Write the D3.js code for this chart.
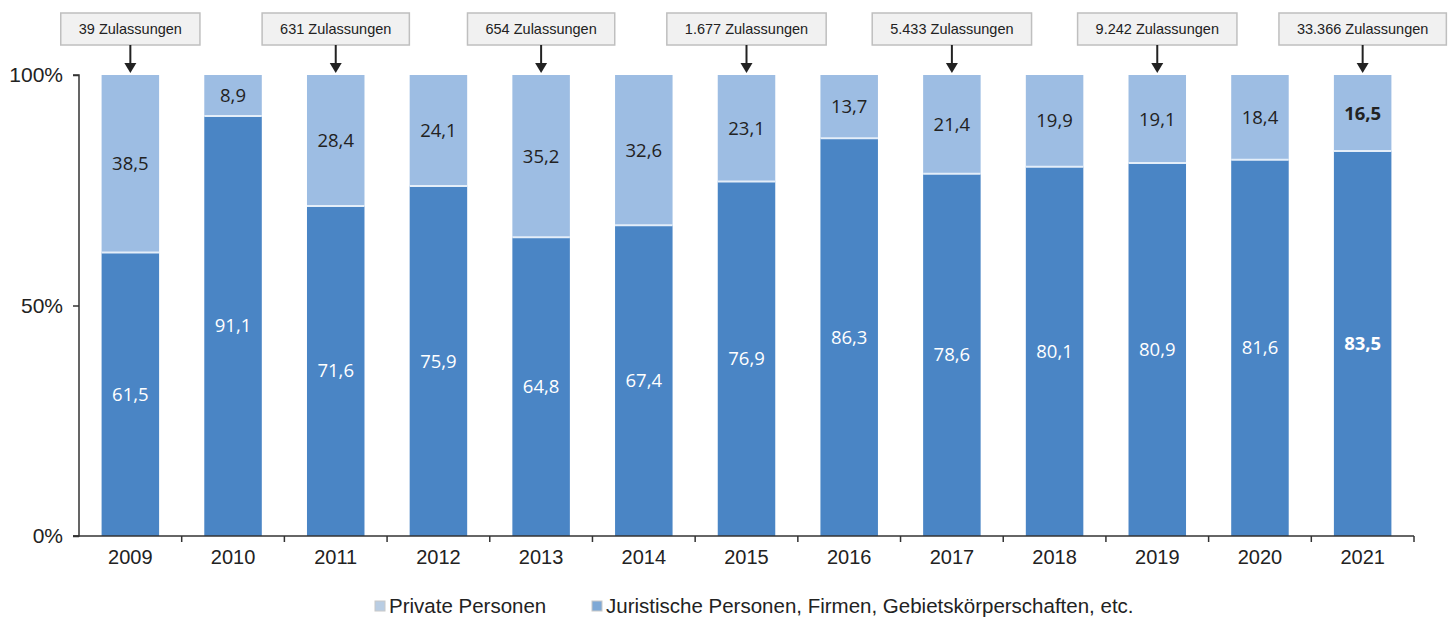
<!doctype html>
<html lang="de">
<head>
    <meta charset="utf-8">
    <title>Zulassungen</title>
    <script src="https://cdnjs.cloudflare.com/ajax/libs/d3/7.8.5/d3.min.js"></script>
    <style>
        body { margin: 0; background: #fff; }
        #chart text { font-family: Arial, "Liberation Sans", sans-serif; fill: #222; }
        #chart .val { font-family: "Open Sans", "Noto Sans", sans-serif; font-size: 18.5px; }
    </style>
</head>
<body>
    <div id="chart"></div>
    <script>
        // data
        var years = ["2009", "2010", "2011", "2012", "2013", "2014", "2015", "2016", "2017", "2018", "2019", "2020", "2021"];
        var juristisch = [61.5, 91.1, 71.6, 75.9, 64.8, 67.4, 76.9, 86.3, 78.6, 80.1, 80.9, 81.6, 83.5];
        var privat = [38.5, 8.9, 28.4, 24.1, 35.2, 32.6, 23.1, 13.7, 21.4, 19.9, 19.1, 18.4, 16.5];
        var calloutYears = ["2009", "2011", "2013", "2015", "2017", "2019", "2021"];
        var calloutLabels = ["39 Zulassungen", "631 Zulassungen", "654 Zulassungen", "1.677 Zulassungen",
            "5.433 Zulassungen", "9.242 Zulassungen", "33.366 Zulassungen"];
        var yTicks = [0, 50, 100];
        var seriesNames = ["Private Personen", "Juristische Personen, Firmen, Gebietskörperschaften, etc."];

        var width = 1450, height = 619;
        var darkBlue = "#4a85c5", lightBlue = "#9dbde3";

        var svg = d3.select("#chart").append("svg")
            .attr("width", width)
            .attr("height", height);

        var x = d3.scaleBand().domain(years).range([79, 1414]).paddingInner(0.44).paddingOuter(0.22);
        var y = d3.scaleLinear().domain([0, 100]).range([536, 75]);

        // stacked bars
        var bar = svg.selectAll("g.bar")
            .data(years)
            .enter()
            .append("g")
            .attr("class", "bar");

        bar.append("rect")
            .attr("x", function(d) { return x(d); })
            .attr("y", y(100))
            .attr("width", x.bandwidth())
            .attr("height", function(d, i) { return y(juristisch[i]) - y(100); })
            .attr("fill", lightBlue);

        bar.append("rect")
            .attr("x", function(d) { return x(d); })
            .attr("y", function(d, i) { return y(juristisch[i]); })
            .attr("width", x.bandwidth())
            .attr("height", function(d, i) { return y(0) - y(juristisch[i]); })
            .attr("fill", darkBlue);

        // thin light seam between the two segments
        bar.append("line")
            .attr("x1", function(d) { return x(d); })
            .attr("x2", function(d) { return x(d) + x.bandwidth(); })
            .attr("y1", function(d, i) { return y(juristisch[i]); })
            .attr("y2", function(d, i) { return y(juristisch[i]); })
            .attr("stroke", "#e4eef9")
            .attr("stroke-width", 2);

        var last = years.length - 1;

        bar.append("text")
            .attr("class", "val")
            .attr("x", function(d) { return x(d) + x.bandwidth() / 2; })
            .attr("y", function(d, i) { return (y(juristisch[i]) + y(0)) / 2; })
            .attr("dy", ".35em")
            .attr("text-anchor", "middle")
            .style("fill", "#fff")
            .style("font-weight", function(d, i) { return i === last ? "bold" : "normal"; })
            .text(function(d, i) { return String(juristisch[i]).replace(".", ","); });

        bar.append("text")
            .attr("class", "val")
            .attr("x", function(d) { return x(d) + x.bandwidth() / 2; })
            .attr("y", function(d, i) { return (y(100) + y(juristisch[i])) / 2; })
            .attr("dy", ".35em")
            .attr("text-anchor", "middle")
            .style("font-weight", function(d, i) { return i === last ? "bold" : "normal"; })
            .text(function(d, i) { return String(privat[i]).replace(".", ","); });

        // axes
        var yAxis = svg.append("g")
            .attr("transform", "translate(79,0)")
            .call(d3.axisLeft(y).tickValues(yTicks).tickSize(6).tickPadding(10).tickFormat(function(d) { return d + "%"; }));
        yAxis.select(".domain").attr("stroke", "#333").attr("stroke-width", 1.5).attr("d", "M-6," + y(100) + "H0V" + y(0) + "H-6");
        yAxis.selectAll(".tick line").attr("stroke", "#333").attr("stroke-width", 1.5);
        yAxis.selectAll("text").style("font-size", "21px").style("fill", "#222");

        var xAxis = svg.append("g")
            .attr("transform", "translate(0," + y(0) + ")")
            .call(d3.axisBottom(x).tickSize(0).tickPadding(14));
        xAxis.select(".domain").attr("stroke", "#333").attr("stroke-width", 1.5).attr("d", "M73,0H1414");
        xAxis.selectAll("text").style("font-size", "20px").style("fill", "#222");

        // category boundary ticks
        var step = x.step();
        svg.selectAll("line.xtick")
            .data(years)
            .enter()
            .append("line")
            .attr("class", "xtick")
            .attr("x1", function(d) { return x(d) + x.bandwidth() / 2 + step / 2; })
            .attr("x2", function(d) { return x(d) + x.bandwidth() / 2 + step / 2; })
            .attr("y1", y(0))
            .attr("y2", y(0) + 6)
            .attr("stroke", "#333")
            .attr("stroke-width", 1.5);

        // callouts
        var callout = svg.selectAll("g.callout")
            .data(calloutYears)
            .enter()
            .append("g")
            .attr("class", "callout")
            .attr("transform", function(d) { return "translate(" + (x(d) + x.bandwidth() / 2) + ",0)"; });

        var calloutText = callout.append("text")
            .attr("y", 29)
            .attr("dy", ".35em")
            .attr("text-anchor", "middle")
            .style("font-size", "14.5px")
            .text(function(d, i) { return calloutLabels[i]; });

        callout.insert("rect", "text")
            .each(function(d, i) {
                var w = calloutText.nodes()[i].getComputedTextLength() + 36;
                d3.select(this)
                    .attr("x", -w / 2)
                    .attr("y", 13)
                    .attr("width", w)
                    .attr("height", 32);
            })
            .attr("fill", "#f1f1f1")
            .attr("stroke", "#bfbfbf")
            .attr("stroke-width", 1.5);

        callout.append("line")
            .attr("x1", 0).attr("x2", 0)
            .attr("y1", 45).attr("y2", 64)
            .attr("stroke", "#222")
            .attr("stroke-width", 2);

        callout.append("path")
            .attr("d", "M-6,63L6,63L0,73Z")
            .attr("fill", "#222");

        // legend
        var legendX = [375, 592];
        var legend = svg.selectAll("g.legend")
            .data(seriesNames)
            .enter()
            .append("g")
            .attr("class", "legend")
            .attr("transform", function(d, i) { return "translate(" + legendX[i] + ",606)"; });

        legend.append("rect")
            .attr("x", 0).attr("y", -5)
            .attr("width", 10).attr("height", 10)
            .attr("fill", function(d, i) { return i === 0 ? "#b9cde3" : "#7fa9d6"; })
            .attr("stroke", "#c8c8c8");

        legend.append("text")
            .attr("x", 14)
            .attr("dy", ".35em")
            .style("font-size", "20.5px")
            .text(function(d) { return d; });
    </script>
</body>
</html>
